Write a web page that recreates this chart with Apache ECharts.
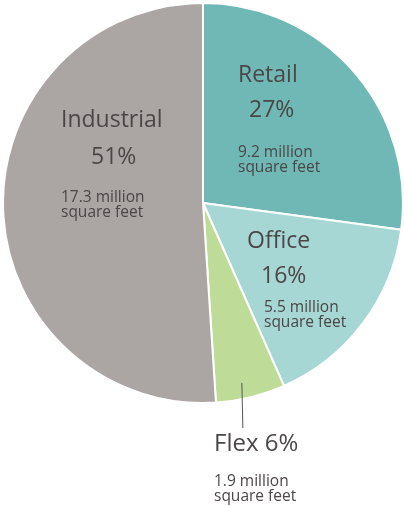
<!DOCTYPE html>
<html>
<head>
<meta charset="utf-8">
<script src="https://cdn.jsdelivr.net/npm/echarts@6/dist/echarts.min.js"></script>
<style>
  html, body { margin: 0; padding: 0; background: #ffffff; }
  #chart { width: 404px; height: 506px; }
</style>
</head>
<body>
<div id="chart"></div>
<script>
// Space by property type, million square feet
const categories = ['Retail', 'Office', 'Flex', 'Industrial'];
const areas = [9.2, 5.5, 1.9, 17.3];
const colors = ['#6fb8b5', '#a6d7d5', '#bedc97', '#aba6a4'];

// Pie geometry
const center = [203, 203];
const outerRadius = 200;

// Where each slice's text block sits and how its lines are spaced
const labelSpots = {
  Retail:     { x: 238, y: 58,  pctIndent: 11, pctLine: 35, gap: 17, mIndent: 0 },
  Office:     { x: 247, y: 224, pctIndent: 14, pctLine: 35, gap: 6,  mIndent: 17 },
  Industrial: { x: 61,  y: 103, pctIndent: 30, pctLine: 39, gap: 13, mIndent: 0 },
  // Flex sits outside its thin slice; a leader drops from inside the slice to the text
  Flex:       { x: 214, y: 427, gap: 12, mIndent: 0,
                leader: { along: 0.58, depth: 0.92, toY: 428 } }
};

const textColor = '#4b4647';
const font = '"Open Sans", "Noto Sans", sans-serif';

function richFor(name) {
  const s = labelSpots[name];
  return {
    t: { fontFamily: font, fontSize: name === 'Flex' ? 24 : 23, lineHeight: 35, color: textColor },
    p: { fontFamily: font, fontSize: 23, lineHeight: s.pctLine || 35, color: textColor,
         padding: [0, 0, 0, s.pctIndent || 0] },
    s: { fontSize: 1, lineHeight: s.gap },
    m: { fontFamily: font, fontSize: 15.5, lineHeight: 15, color: textColor,
         padding: [0, 0, 0, s.mIndent] }
  };
}

// Leader line for an outside label: starts inside the slice (angle taken from the data)
// and drops straight down to the text block.
function leaderFor(name) {
  const spot = labelSpots[name].leader;
  const total = areas.reduce((a, b) => a + b, 0);
  const idx = categories.indexOf(name);
  const before = areas.slice(0, idx).reduce((a, b) => a + b, 0);
  const startDeg = before / total * 360;
  const spanDeg = areas[idx] / total * 360;
  const theta = (startDeg + spanDeg * spot.along) * Math.PI / 180;
  const r = outerRadius * spot.depth;
  const x = center[0] + r * Math.sin(theta);
  const y = center[1] - r * Math.cos(theta);
  return {
    type: 'line',
    silent: true,
    z: 10,
    shape: { x1: x, y1: y, x2: x + 1, y2: spot.toY },
    style: { stroke: '#555555', lineWidth: 1 }
  };
}

const data = categories.map((name, i) => ({
  name: name,
  value: areas[i],
  itemStyle: { color: colors[i] },
  label: { rich: richFor(name) }
}));

const chart = echarts.init(document.getElementById('chart'), null, { renderer: 'canvas' });
chart.setOption({
  animation: false,
  graphic: [leaderFor('Flex')],
  series: [{
    type: 'pie',
    center: center,
    radius: [0, outerRadius],
    startAngle: 90,
    clockwise: true,
    silent: true,
    itemStyle: { borderColor: '#ffffff', borderWidth: 2 },
    label: {
      show: true,
      position: 'inside',
      align: 'left',
      formatter: function (p) {
        const pct = Math.round(p.percent) + '%';
        const m = '{m|' + p.value + ' million}\n{m|square feet}';
        if (p.name === 'Flex') {
          return '{t|' + p.name + ' ' + pct + '}\n{s| }\n' + m;
        }
        return '{t|' + p.name + '}\n{p|' + pct + '}\n{s| }\n' + m;
      }
    },
    labelLine: { show: false },
    labelLayout: function (params) {
      const s = labelSpots[categories[params.dataIndex]];
      return { x: s.x, y: s.y, align: 'left', verticalAlign: 'top' };
    },
    data: data
  }]
});
</script>
</body>
</html>
